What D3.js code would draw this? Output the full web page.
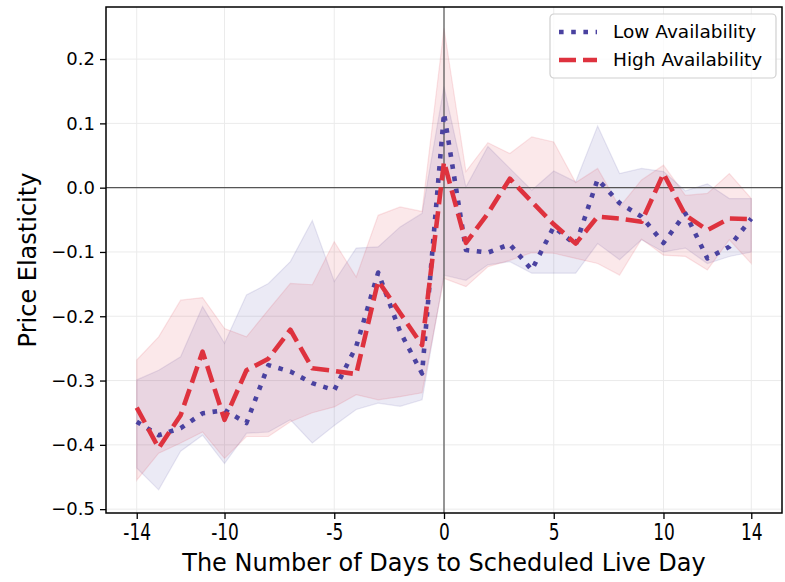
<!DOCTYPE html>
<html>
<head>
<meta charset="utf-8">
<script src="https://cdn.jsdelivr.net/npm/d3@7"></script>
<style>
    body { margin: 0; background: #fff; }
    text { font-family: "DejaVu Sans", sans-serif; }
</style>
</head>
<body>
<div id="chart"></div>
<script>
// days relative to the scheduled live day
const days = [-14, -13, -12, -11, -10, -9, -8, -7, -6, -5, -4, -3, -2, -1, 0, 1, 2, 3, 4, 5, 6, 7, 8, 9, 10, 11, 12, 13, 14];

// low availability: mean and band
const lowMean = [-0.364, -0.385, -0.374, -0.351, -0.346, -0.366, -0.276, -0.286, -0.304, -0.315, -0.247, -0.132, -0.224, -0.289, 0.116, -0.097, -0.101, -0.088, -0.128, -0.061, -0.089, 0.013, -0.024, -0.045, -0.086, -0.040, -0.110, -0.092, -0.048];
const lowUpper = [-0.299, -0.284, -0.263, -0.185, -0.242, -0.167, -0.149, -0.115, -0.051, -0.146, -0.094, -0.092, -0.061, -0.040, 0.157, 0.001, 0.064, 0.030, -0.004, 0.026, 0.009, 0.096, 0.022, 0.030, 0.025, -0.005, 0.006, -0.017, -0.017];
const lowLower = [-0.436, -0.470, -0.410, -0.385, -0.429, -0.382, -0.380, -0.361, -0.397, -0.370, -0.345, -0.335, -0.340, -0.330, -0.136, -0.144, -0.120, -0.115, -0.133, -0.133, -0.133, -0.087, -0.112, -0.081, -0.100, -0.094, -0.118, -0.107, -0.100];

// high availability: mean and band
const highMean = [-0.342, -0.405, -0.354, -0.255, -0.361, -0.284, -0.266, -0.221, -0.281, -0.285, -0.290, -0.145, -0.195, -0.245, 0.040, -0.086, -0.040, 0.014, -0.022, -0.057, -0.087, -0.045, -0.048, -0.053, 0.022, -0.043, -0.066, -0.048, -0.049];
const highUpper = [-0.268, -0.232, -0.175, -0.171, -0.219, -0.232, -0.190, -0.149, -0.151, -0.084, -0.139, -0.043, -0.030, -0.037, 0.248, 0.025, 0.070, 0.053, 0.079, 0.071, 0.008, 0.030, -0.030, 0.012, 0.035, -0.012, -0.009, 0.022, -0.017];
const highLower = [-0.455, -0.413, -0.397, -0.380, -0.421, -0.387, -0.387, -0.364, -0.350, -0.341, -0.322, -0.330, -0.325, -0.319, -0.141, -0.154, -0.123, -0.113, -0.101, -0.102, -0.110, -0.118, -0.136, -0.080, -0.105, -0.107, -0.128, -0.081, -0.118];

const xTicks = [-14, -10, -5, 0, 5, 10, 14];
const yTicks = [-0.5, -0.4, -0.3, -0.2, -0.1, 0.0, 0.1, 0.2];

const series = [
    { name: 'Low Availability', mean: lowMean, upper: lowUpper, lower: lowLower, color: '#4a42a0', dash: '4.6,7.6' },
    { name: 'High Availability', mean: highMean, upper: highUpper, lower: highLower, color: '#de323e', dash: '17,7' }
];

const svgWidth = 785;
const svgHeight = 582;
const margin = { top: 7, right: 3, bottom: 69, left: 106 };
const chartWidth = svgWidth - margin.left - margin.right;
const chartHeight = svgHeight - margin.top - margin.bottom;

const svg = d3.select('#chart').append('svg')
    .attr('width', svgWidth)
    .attr('height', svgHeight);

const chartGroup = svg.append('g')
    .attr('transform', `translate(${margin.left},${margin.top})`);

const xScale = d3.scaleLinear()
    .domain([-15.4, 15.4])
    .range([0, chartWidth]);

const yScale = d3.scaleLinear()
    .domain([-0.506, 0.281])
    .range([chartHeight, 0]);

// grid
chartGroup.append('g')
    .selectAll('line')
    .data(xTicks)
    .join('line')
    .attr('x1', d => xScale(d)).attr('x2', d => xScale(d))
    .attr('y1', 0).attr('y2', chartHeight)
    .attr('stroke', '#ebebeb').attr('stroke-width', 1);

chartGroup.append('g')
    .selectAll('line')
    .data(yTicks)
    .join('line')
    .attr('x1', 0).attr('x2', chartWidth)
    .attr('y1', d => yScale(d)).attr('y2', d => yScale(d))
    .attr('stroke', '#ebebeb').attr('stroke-width', 1);

// confidence bands
series.forEach(s => {
    const area = d3.area()
        .x((d, i) => xScale(days[i]))
        .y0((d, i) => yScale(s.lower[i]))
        .y1((d, i) => yScale(s.upper[i]));
    chartGroup.append('path')
        .datum(days)
        .attr('d', area)
        .attr('fill', s.color)
        .attr('fill-opacity', 0.11)
        .attr('stroke', s.color)
        .attr('stroke-opacity', 0.12)
        .attr('stroke-width', 1.2);
});

// zero reference lines
chartGroup.append('line')
    .attr('x1', 0).attr('x2', chartWidth)
    .attr('y1', yScale(0)).attr('y2', yScale(0))
    .attr('stroke', '#555').attr('stroke-width', 1.2);

chartGroup.append('line')
    .attr('x1', xScale(0)).attr('x2', xScale(0))
    .attr('y1', 0).attr('y2', chartHeight)
    .attr('stroke', '#555').attr('stroke-width', 1.2);

// mean lines
series.forEach(s => {
    const line = d3.line()
        .x((d, i) => xScale(days[i]))
        .y((d, i) => yScale(s.mean[i]));
    chartGroup.append('path')
        .datum(days)
        .attr('d', line)
        .attr('fill', 'none')
        .attr('stroke', s.color)
        .attr('stroke-width', 4.6)
        .attr('stroke-dasharray', s.dash)
        .attr('stroke-linejoin', 'round');
});

// axes
const xAxis = d3.axisBottom(xScale)
    .tickValues(xTicks)
    .tickFormat(d => String(d))
    .tickSize(6)
    .tickPadding(5);

const yAxis = d3.axisLeft(yScale)
    .tickValues(yTicks)
    .tickFormat(d3.format('.1f'))
    .tickSize(6)
    .tickPadding(5);

const xg = chartGroup.append('g')
    .attr('transform', `translate(0, ${chartHeight})`)
    .call(xAxis);
xg.select('.domain').remove();
xg.selectAll('line').attr('stroke', '#000').attr('stroke-width', 1.3);
// tick labels on x are narrow and tall in the original
xg.selectAll('text')
    .attr('fill', '#000')
    .style('font-size', '23px')
    .attr('transform', 'scale(0.74,1)');

const yg = chartGroup.append('g').call(yAxis);
yg.select('.domain').remove();
yg.selectAll('line').attr('stroke', '#000').attr('stroke-width', 1.3);
yg.selectAll('text').attr('fill', '#000').style('font-size', '18px');

// frame
chartGroup.append('rect')
    .attr('width', chartWidth)
    .attr('height', chartHeight)
    .attr('fill', 'none')
    .attr('stroke', '#000')
    .attr('stroke-width', 1.5);

// axis labels
svg.append('text')
    .attr('x', margin.left + xScale(0))
    .attr('y', 571)
    .attr('text-anchor', 'middle')
    .style('font-size', '24px')
    .text('The Number of Days to Scheduled Live Day');

svg.append('text')
    .attr('transform', `translate(36, ${margin.top + chartHeight / 2}) rotate(-90)`)
    .attr('text-anchor', 'middle')
    .style('font-size', '24px')
    .text('Price Elasticity');

// legend
const legend = svg.append('g').attr('transform', 'translate(550, 14)');
legend.append('rect')
    .attr('width', 226).attr('height', 64)
    .attr('rx', 4)
    .attr('fill', '#fff').attr('fill-opacity', 0.8)
    .attr('stroke', '#d0d0d0').attr('stroke-width', 1.2);

series.forEach((s, i) => {
    const row = legend.append('g').attr('transform', `translate(0, ${18 + i * 28})`);
    row.append('line')
        .attr('x1', 9).attr('x2', 47)
        .attr('stroke', s.color)
        .attr('stroke-width', 4.6)
        .attr('stroke-dasharray', s.dash);
    row.append('text')
        .attr('x', 63)
        .attr('dy', '0.35em')
        .style('font-size', '18.5px')
        .text(s.name);
});
</script>
</body>
</html>
